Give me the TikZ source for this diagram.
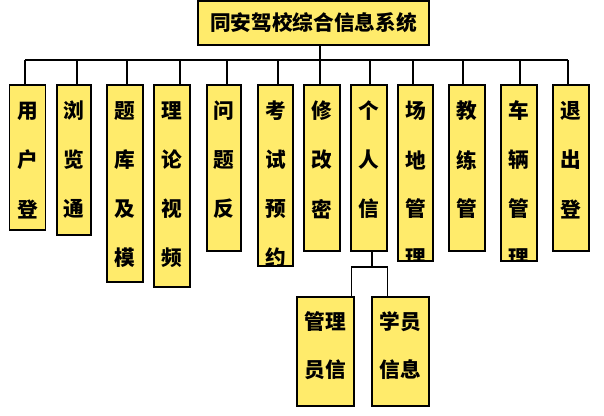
\documentclass[tikz,border=0pt]{standalone}
\usepackage{fontspec}
\newfontfamily\cjk{Noto Sans CJK SC}
\usetikzlibrary{fit}
\definecolor{boxy}{HTML}{FFEB6B}
\tikzset{
 box/.style={draw=black, line width=0.9pt, fill=boxy, inner sep=0pt},
 ch/.style={font=\cjk\bfseries\fontsize{15.5}{15.5}\selectfont, inner sep=0pt},
 link/.style={draw=black, line width=0.8pt}
}
\newcommand{\colbox}[6]{% name, x1, x2, y2, busx, chars
 \node[box, fit={(#2,85)(#3,#4)}] (#1) {};
 \coordinate (#1bus) at (#5,60);
 \draw[link] (#1bus) -- (#5,85);
 \begin{scope}
 \clip (#2,85) rectangle (#3,#4-1);
 \foreach \c [count=\i] in {#6} \node[ch, name=#1t\i] at ({(#2+#3)/2}, {111+49*(\i-1)}) {\c};
 \end{scope}
}
\begin{document}
\begin{tikzpicture}[x=0.75pt,y=-0.75pt]
\useasboundingbox (0,0) rectangle (604,415);
\node[box, fit={(198,1)(429,45)}] (top) {};
\node[ch] (toptext) at (313.5,23) {同安驾校综合信息系统};
\coordinate (busL) at (25,60);
\coordinate (busR) at (568,60);
\coordinate (busM) at (320,60);
\draw[link] (busL) -- (busR);
\draw[link] (busM) -- (top.south -| busM);
\colbox{a}{9.5}{45.5}{230}{25}{用,户,登}
\colbox{b}{57}{91}{235}{77}{浏,览,通}
\colbox{c}{107}{143}{282}{127}{题,库,及,模}
\colbox{d}{154}{190}{287}{180}{理,论,视,频}
\colbox{e}{207}{241}{251}{227}{问,题,反}
\colbox{f}{258}{293}{266}{278}{考,试,预,约}
\colbox{g}{304}{340}{251}{320}{修,改,密}
\colbox{h}{351}{387}{251}{370}{个,人,信}
\colbox{i}{398}{433}{261}{413}{场,地,管,理}
\colbox{j}{449}{485}{251}{463}{教,练,管}
\colbox{k}{501}{537}{261}{520}{车,辆,管,理}
\colbox{l}{553}{589}{251}{568}{退,出,登}
\node[box, fit={(297,297)(354,406)}] (m) {};
\node[box, fit={(372,297)(429,406)}] (s) {};
\node[ch] (mt1) at (m.north |- 0,322) {管理};
\node[ch] (mt2) at (m.north |- 0,370) {员信};
\node[ch] (st1) at (s.north |- 0,322) {学员};
\node[ch] (st2) at (s.north |- 0,370) {信息};
\coordinate (hj) at (372,267);
\draw[link] (372,251) -- (hj);
\draw[link] (m.north -| 351.5,0) |- (hj) -| (s.north -| 387.5,0);
\end{tikzpicture}
\end{document}
